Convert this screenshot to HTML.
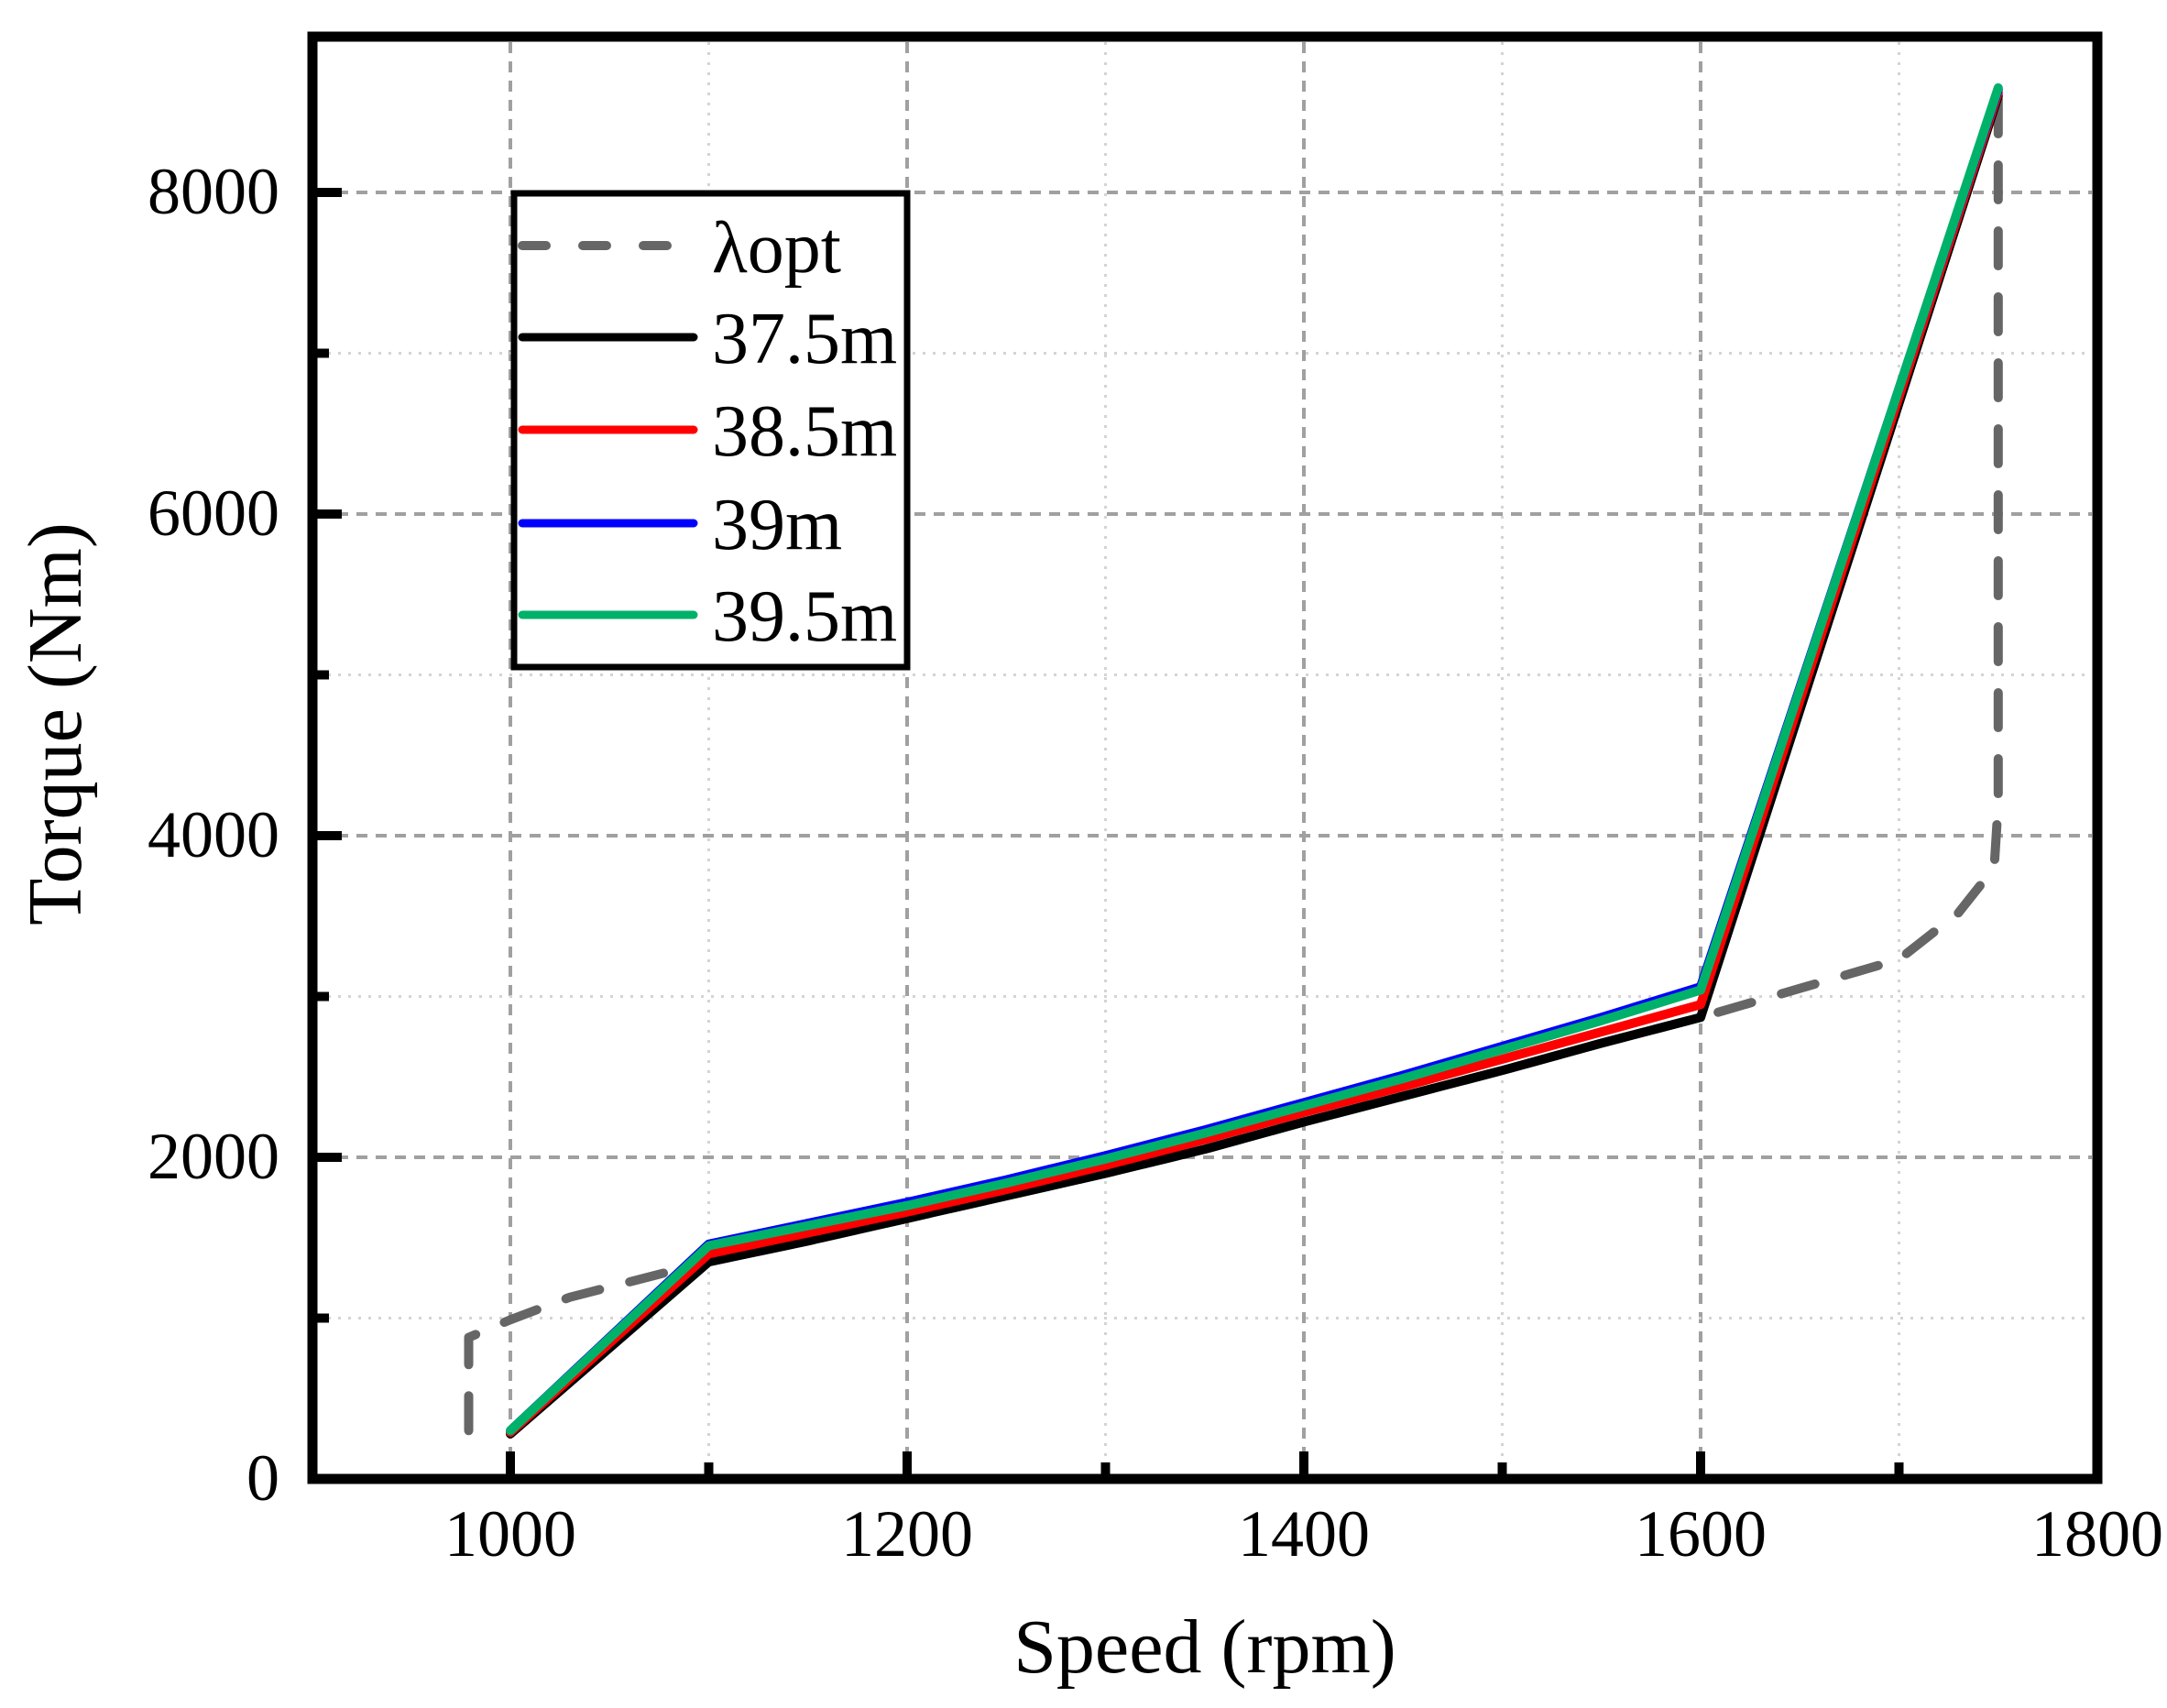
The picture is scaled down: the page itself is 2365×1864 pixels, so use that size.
<!DOCTYPE html>
<html><head><meta charset="utf-8"><style>
html,body{margin:0;padding:0;background:#fff;}
svg{display:block;font-family:"Liberation Serif",serif;}
</style></head><body>
<svg id="s" width="2365" height="1864" viewBox="0 0 2365 1864" xmlns="http://www.w3.org/2000/svg">
<rect width="2365" height="1864" fill="#fff"/>
<g id="grid"></g>
<g id="series" fill="none" stroke-linejoin="round" stroke-linecap="round"></g>
<rect x="341" y="40" width="1948" height="1574" fill="none" stroke="#000" stroke-width="11"/>
<g id="ticks" stroke="#000"></g>
<g font-size="72" fill="#000">
<text x="305" y="233" text-anchor="end">8000</text>
<text x="305" y="584" text-anchor="end">6000</text>
<text x="305" y="935" text-anchor="end">4000</text>
<text x="305" y="1286" text-anchor="end">2000</text>
<text x="305" y="1637" text-anchor="end">0</text>
<text x="557" y="1698" text-anchor="middle">1000</text>
<text x="990" y="1698" text-anchor="middle">1200</text>
<text x="1423" y="1698" text-anchor="middle">1400</text>
<text x="1856" y="1698" text-anchor="middle">1600</text>
<text x="2289" y="1698" text-anchor="middle">1800</text>
</g>
<text x="1315" y="1825" font-size="84" text-anchor="middle">Speed (rpm)</text>
<text transform="translate(88,790) rotate(-90)" font-size="84" text-anchor="middle">Torque (Nm)</text>
<g>
<rect x="561" y="211" width="429" height="517" fill="#fff" stroke="#000" stroke-width="7"/>
<line x1="570" y1="268" x2="757" y2="268" stroke="#666" stroke-width="10" stroke-linecap="round" stroke-dasharray="26,40"/>
<line x1="570" y1="368" x2="757" y2="368" stroke="#000" stroke-width="9" stroke-linecap="round"/>
<line x1="570" y1="469" x2="757" y2="469" stroke="#f00" stroke-width="9" stroke-linecap="round"/>
<line x1="570" y1="571" x2="757" y2="571" stroke="#00f" stroke-width="9" stroke-linecap="round"/>
<line x1="570" y1="671" x2="757" y2="671" stroke="#00b16a" stroke-width="9" stroke-linecap="round"/>
<g font-size="80" fill="#000">
<text x="777" y="297">λopt</text>
<text x="777" y="396">37.5m</text>
<text x="777" y="497">38.5m</text>
<text x="777" y="599">39m</text>
<text x="777" y="699">39.5m</text>
</g>
</g>
</svg>
<script>
var NS="http://www.w3.org/2000/svg";
function X(r){return 557+(r-1000)*2.165;}
function Y(t){return 1614-t*0.1755;}
function el(p,tag,a){var e=document.createElementNS(NS,tag);for(var k in a)e.setAttribute(k,a[k]);p.appendChild(e);return e;}
var g=document.getElementById('grid');
for(var r=1000;r<1800;r+=100){var maj=(r%200==0);
 el(g,'line',{x1:X(r),x2:X(r),y1:46,y2:1608,stroke:maj?'#a0a0a0':'#d4d4d4','stroke-width':maj?4:3,'stroke-dasharray':maj?'12,9':'3,8'});}
for(var t=1000;t<9000;t+=1000){var maj=(t%2000==0);
 el(g,'line',{x1:347,x2:2283,y1:Y(t),y2:Y(t),stroke:maj?'#a0a0a0':'#d4d4d4','stroke-width':maj?4:3,'stroke-dasharray':maj?'12,9':'3,8'});}
var tk=document.getElementById('ticks');
for(var r=1000;r<1800;r+=100){var maj=(r%200==0);
 el(tk,'line',{x1:X(r),x2:X(r),y1:1614,y2:1614-(maj?30:18),'stroke-width':10});}
for(var t=1000;t<9000;t+=1000){var maj=(t%2000==0);
 el(tk,'line',{x1:341,x2:341+(maj?32:18),y1:Y(t),y2:Y(t),'stroke-width':10});}
function path(pts){return pts.map(function(p,i){return (i?'L':'M')+X(p[0]).toFixed(1)+' '+Y(p[1]).toFixed(1);}).join(' ');}
var s=document.getElementById('series');
var black=[[1100,1350],[1150,1480],[1200,1620],[1250,1760],[1300,1900],[1350,2050],[1400,2220],[1450,2380],[1500,2540],[1550,2710],[1600,2870]];
el(s,'path',{d:path([[979,300],[979,880],[1000,990],[1030,1130],[1090,1320]].concat(black).concat([[1650,3050],[1700,3230],[1730,3520],[1748,3800],[1750,4200],[1750,8600]])),stroke:'#666','stroke-width':10,'stroke-dasharray':'38,34'});
el(s,'path',{d:path([[1000,280]].concat(black).concat([[1750,8600]])),stroke:'#000','stroke-width':10});
el(s,'path',{d:path([[1000,290],[1100,1400],[1150,1530],[1200,1660],[1250,1800],[1300,1950],[1350,2110],[1400,2280],[1450,2440],[1500,2610],[1550,2780],[1600,2950],[1750,8620]]),stroke:'#f00','stroke-width':10});
el(s,'path',{d:path([[1000,300],[1100,1460],[1150,1590],[1200,1720],[1250,1860],[1300,2010],[1350,2170],[1400,2340],[1450,2510],[1500,2690],[1550,2870],[1600,3060],[1750,8640]]),stroke:'#00f','stroke-width':10});
el(s,'path',{d:path([[1000,300],[1100,1450],[1150,1575],[1200,1700],[1250,1840],[1300,1990],[1350,2150],[1400,2320],[1450,2490],[1500,2670],[1550,2850],[1600,3040],[1750,8650]]),stroke:'#00b16a','stroke-width':10});
</script>
</body></html>
